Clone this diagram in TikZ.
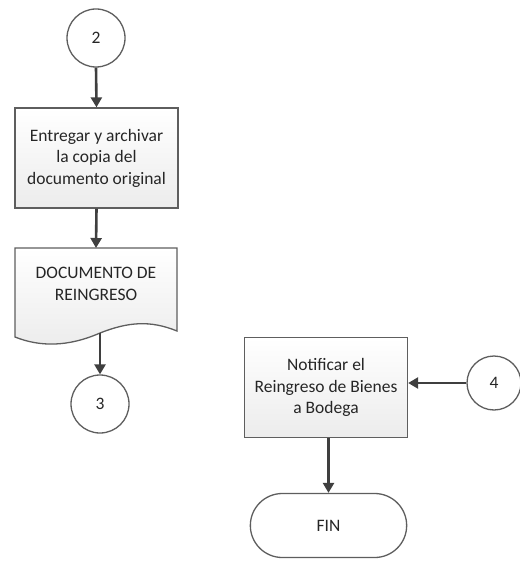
\documentclass[tikz,border=0pt]{standalone}
\usepackage{fontspec}
\setmainfont{Carlito}
\usetikzlibrary{arrows.meta,shapes.misc}
\definecolor{edge}{HTML}{5E5E5E}
\definecolor{arr}{HTML}{3F3F3F}
\definecolor{boxtop}{HTML}{FFFFFF}
\definecolor{boxbot}{HTML}{ECECEC}
\tikzset{
  x=1pt,y=-1pt,
  every node/.style={font=\fontsize{17.5}{21.5}\selectfont, text=black!85},
  procbox/.style={draw=edge, line width=1.3pt, top color=boxtop, bottom color=boxbot, minimum width=163pt, minimum height=100pt, align=center, inner sep=2pt},
  conn/.style={circle, draw=edge, line width=1.3pt, fill=white, minimum size=58pt, inner sep=0pt},
  term/.style={rounded rectangle, draw=edge, line width=1.3pt, fill=white, minimum width=163pt, minimum height=64pt},
  flow/.style={draw=arr, line width=2.6pt, -{Triangle[length=10pt,width=11pt]}}
}
\begin{document}
\begin{tikzpicture}
\useasboundingbox (0,0) rectangle (519,561);
% connector 2
\node[conn] (c2) at (96,38) {2};
% process box 1
\node[procbox] (p1) at (96.5,158) {Entregar y archivar\\la copia del\\documento original};
% document shape
\path[draw=edge, line width=1.3pt, top color=boxtop, bottom color=boxbot]
  (15,248) -- (177,248) -- (177,331)
  .. controls (150,320) and (128,322) .. (100,333)
  .. controls (68,347) and (40,347) .. (15,337) -- cycle;
\node[align=center] (doc) at (96,284) {DOCUMENTO DE\\REINGRESO};
\coordinate (docb) at (100,333);
% connector 3
\node[conn] (c3) at (100,404) {3};
% process box 2
\node[procbox] (p2) at (326,387.5) {Notificar el\\Reingreso de Bienes\\a Bodega};
% connector 4
\node[conn, minimum size=54pt] (c4) at (494,383) {4};
% terminator
\node[term] (fin) at (328.5,525.5) {FIN};
% flows
\draw[flow] (c2.south) -- (p1.north);
\draw[flow] (p1.south) -- (96,248);
\draw[flow] (docb) -- (c3.north);
\draw[flow] (c4.west) -- (p2.east |- c4.west);
\draw[flow] (p2.south -| fin.north) -- (fin.north);
\end{tikzpicture}
\end{document}
